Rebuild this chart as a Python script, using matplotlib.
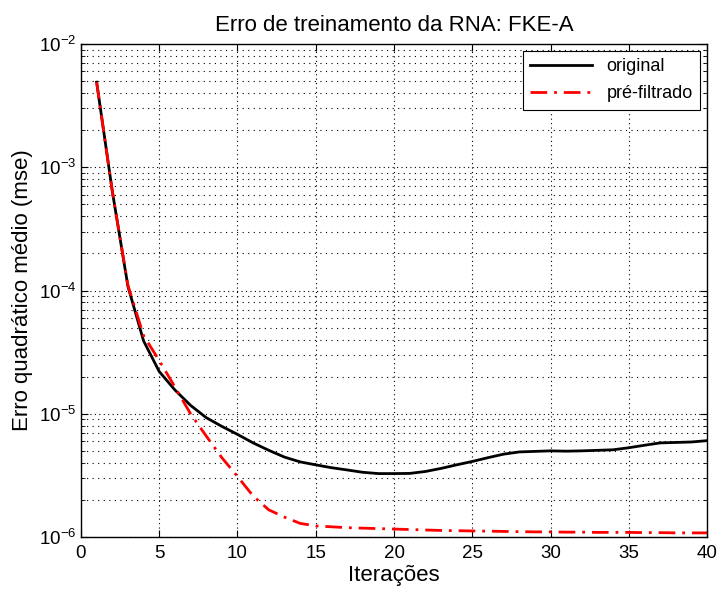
import math
import matplotlib
matplotlib.use("Agg")
import matplotlib.pyplot as plt
from matplotlib.ticker import LogLocator, FixedLocator, FuncFormatter

plt.rcParams['font.family'] = ['Liberation Sans', 'DejaVu Sans']
plt.rcParams['mathtext.fontset'] = 'custom'
plt.rcParams['mathtext.rm'] = 'Liberation Sans'
plt.rcParams['mathtext.it'] = 'Liberation Sans'

# iterations and training error
iteracoes = list(range(1, 41))
mse_original = [4.9e-3, 6.4e-4, 1.08e-4, 3.9e-5, 2.2e-5, 1.56e-5, 1.17e-5, 9.3e-6, 7.9e-6, 6.8e-6,
                5.8e-6, 5.05e-6, 4.45e-6, 4.07e-6, 3.85e-6, 3.65e-6, 3.5e-6, 3.35e-6, 3.27e-6, 3.27e-6,
                3.28e-6, 3.4e-6, 3.6e-6, 3.85e-6, 4.1e-6, 4.4e-6, 4.7e-6, 4.9e-6, 4.95e-6, 5.0e-6,
                4.97e-6, 5.0e-6, 5.05e-6, 5.1e-6, 5.3e-6, 5.55e-6, 5.8e-6, 5.85e-6, 5.9e-6, 6.05e-6]
mse_prefiltrado = [4.9e-3, 6.4e-4, 1.1e-4, 4.3e-5, 2.7e-5, 1.65e-5, 1.0e-5, 6.6e-6, 4.4e-6, 3.1e-6,
                   2.15e-6, 1.66e-6, 1.45e-6, 1.29e-6, 1.23e-6, 1.21e-6, 1.19e-6, 1.18e-6, 1.17e-6, 1.16e-6,
                   1.15e-6, 1.14e-6, 1.13e-6, 1.125e-6, 1.12e-6, 1.115e-6, 1.11e-6, 1.105e-6, 1.1e-6, 1.1e-6,
                   1.095e-6, 1.095e-6, 1.09e-6, 1.09e-6, 1.09e-6, 1.085e-6, 1.085e-6, 1.08e-6, 1.08e-6, 1.08e-6]
x_ticks = [0, 5, 10, 15, 20, 25, 30, 35, 40]

fig = plt.figure(figsize=(7.18, 5.97), dpi=100)
ax = fig.add_axes([0.1128, 0.1005, 0.8719, 0.8258])

ax.semilogy(iteracoes, mse_original, color='black', lw=2, label='original')
ax.semilogy(iteracoes, mse_prefiltrado, color='red', lw=2, linestyle=(0, (6, 2.5, 1, 2.5)), label='pré-filtrado')

ax.set_xlim(0, 40)
ax.set_ylim(1e-6, 1e-2)
ax.xaxis.set_major_locator(FixedLocator(x_ticks))
ax.yaxis.set_major_locator(LogLocator(base=10, numticks=10))
ax.yaxis.set_minor_locator(LogLocator(base=10, subs=range(2, 10), numticks=20))
ax.yaxis.set_major_formatter(FuncFormatter(lambda v, p: r'$10^{%d}$' % round(math.log10(v))))

ax.grid(True, which='major', axis='both', linestyle=(0, (1, 3)), color='black', lw=0.8)
ax.grid(True, which='minor', axis='y', linestyle=(0, (1, 4)), color='black', lw=0.8)
ax.tick_params(which='both', direction='in', top=True, right=True, labelsize=13.5, color='black')
ax.tick_params(which='major', length=5)
ax.tick_params(which='minor', length=3)
ax.tick_params(axis='x', pad=6)
for s in ax.spines.values():
    s.set_linewidth(1.0)

ax.set_title('Erro de treinamento da RNA: FKE-A', fontsize=16, pad=9)
ax.set_xlabel('Iterações', fontsize=16, labelpad=2)
ax.set_ylabel('Erro quadrático médio (mse)', fontsize=16, labelpad=4)

leg = ax.legend(loc='upper right', fontsize=13, fancybox=False, framealpha=1,
                edgecolor='black', borderaxespad=0.4, handlelength=3.4, labelspacing=0.55)
leg.get_frame().set_linewidth(0.8)

fig.savefig('out.png', dpi=100)
